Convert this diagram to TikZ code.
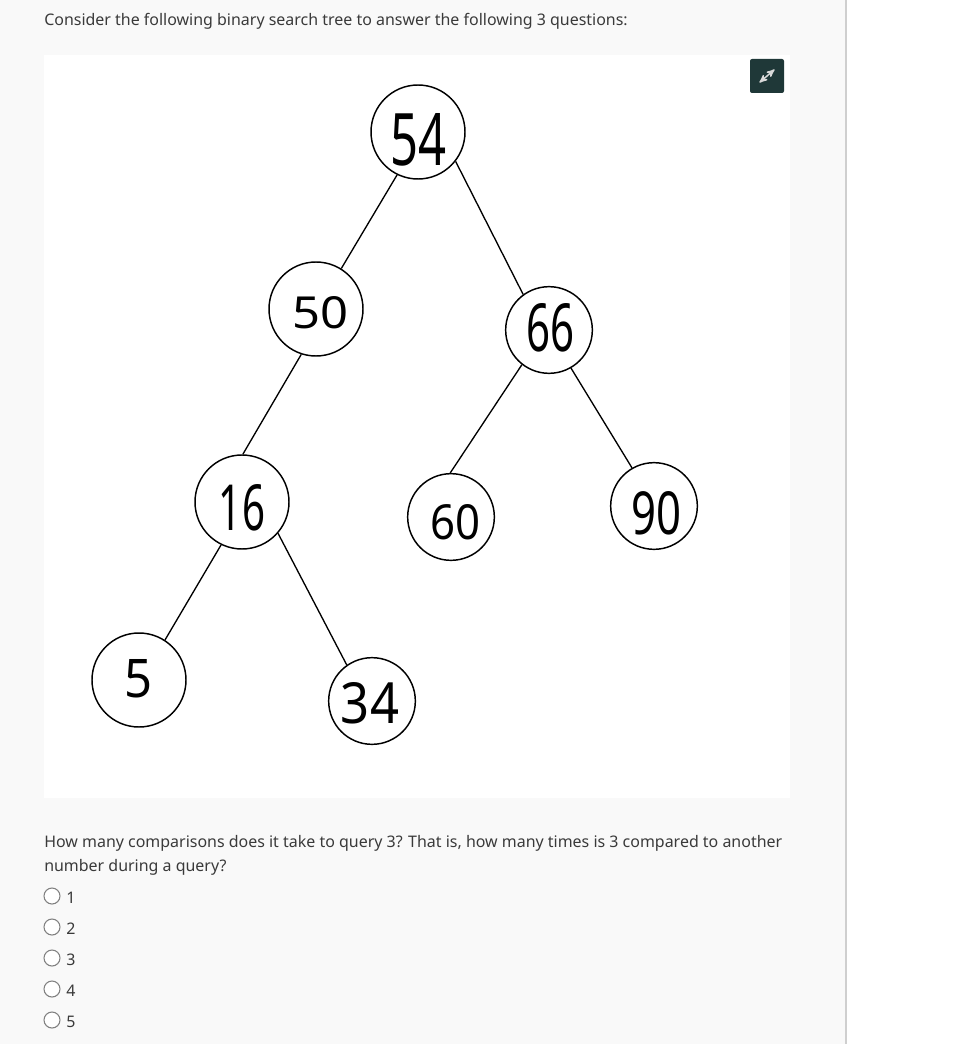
\documentclass[tikz,border=0pt]{standalone}
\usepackage{fontspec}
\setmainfont{Noto Sans}
\usetikzlibrary{arrows}
\definecolor{pagegray}{HTML}{F9F9F9}
\definecolor{rulegray}{HTML}{CFCFCF}
\definecolor{inkgray}{HTML}{3A3A3A}
\definecolor{buttondark}{HTML}{1F3838}
\newdimen\pxu
\pxu=0.75pt
% digits: x shift, y shift (down), width, height, text
\newcommand{\hand}[5]{\makebox[0pt]{\hspace*{\dimexpr 2\dimexpr #1\pxu\relax\relax}\raisebox{\dimexpr -#2\pxu-#4\pxu/2\relax}[0pt][0pt]{\resizebox{#3\pxu}{#4\pxu}{#5}}}}

\begin{document}
\begin{tikzpicture}[x=0.75pt,y=-0.75pt,>=stealth']
  \tikzstyle{place}=[circle,draw=black,line width=1.1pt,inner sep=0pt,minimum size=70.5pt]
  \tikzstyle{small place}=[place,minimum size=65pt]
  \tikzstyle{branch}=[draw=black,line width=1pt]
  \tikzstyle{prose}=[anchor=base west,inner sep=0pt,text=inkgray,font=\fontsize{11.97}{12}\selectfont]
  \tikzstyle{radio}=[circle,draw=gray,fill=white,line width=0.8pt,inner sep=0pt,minimum size=12pt]
  \useasboundingbox (0,0) rectangle (969,1044);
  \fill[white] (0,0) rectangle (969,1044);
  \fill[pagegray] (0,0) rectangle (846,1044);
  \draw[rulegray,line width=0.8pt] (846,0) -- (846,1044);
  \fill[white] (44,55) rectangle (790,798);
  \node [prose] (title) at (44,26) {Consider the following binary search tree to answer the following 3 questions:};
  \begin{scope}
    \node [place] (n54) at (418,132) {\hand{0}{8}{56}{52}{54}};
    \node [place] (n50) at (316,309) {\hand{4}{4}{56}{32}{50}};
    \node [small place] (n66) at (549,330) {\hand{1}{-2}{48}{48}{66}};
    \node [place] (n16) at (242,502) {\hand{0}{5}{46}{46}{16}};
    \node [small place] (n60) at (451,517) {\hand{4}{5}{50}{35}{60}};
    \node [small place] (n90) at (654,506) {\hand{2}{7}{50}{43}{90}};
    \node [place] (n5) at (139,680) {\hand{-1}{-2}{28}{38}{5}};
    \node [small place] (n34) at (372,701) {\hand{-2}{2}{58}{41}{34}};
    \draw [branch] (n54.244) -- (n50.58);
    \draw [branch] (n54.322) -- (n66.126);
    \draw [branch] (n50.252) -- (n16.89);
    \draw [branch] (n66.232) -- (n60.91);
    \draw [branch] (n66.300) -- (n90.120);
    \draw [branch] (n16.244) -- (n5.57);
    \draw [branch] (n16.319) -- (n34.125);
  \end{scope}
  \node [fill=buttondark,rounded corners=1.5pt,minimum size=25.5pt,inner sep=0pt] (expand) at (767,76) {};
  \coordinate (expand sw) at (759.5,82.5);
  \coordinate (expand ne) at (774.5,69.5);
  \draw [<->,white!85!black,line width=1.1pt] (expand sw) -- (expand ne);
  \node [prose] (q1) at (44,847) {How many comparisons does it take to query 3? That is, how many times is 3 compared to another};
  \node [prose] (q2) at (44,871) {number during a query?};
  \node [radio] (r1) at (52,896) {};
  \node [radio] (r2) at (52,927) {};
  \node [radio] (r3) at (52,958) {};
  \node [radio] (r4) at (52,989) {};
  \node [radio] (r5) at (52,1020) {};
  \node [prose] (a1) at (66,903) {1};
  \node [prose] (a2) at (66,934) {2};
  \node [prose] (a3) at (66,965) {3};
  \node [prose] (a4) at (66,996) {4};
  \node [prose] (a5) at (66,1027) {5};
\end{tikzpicture}
\end{document}
